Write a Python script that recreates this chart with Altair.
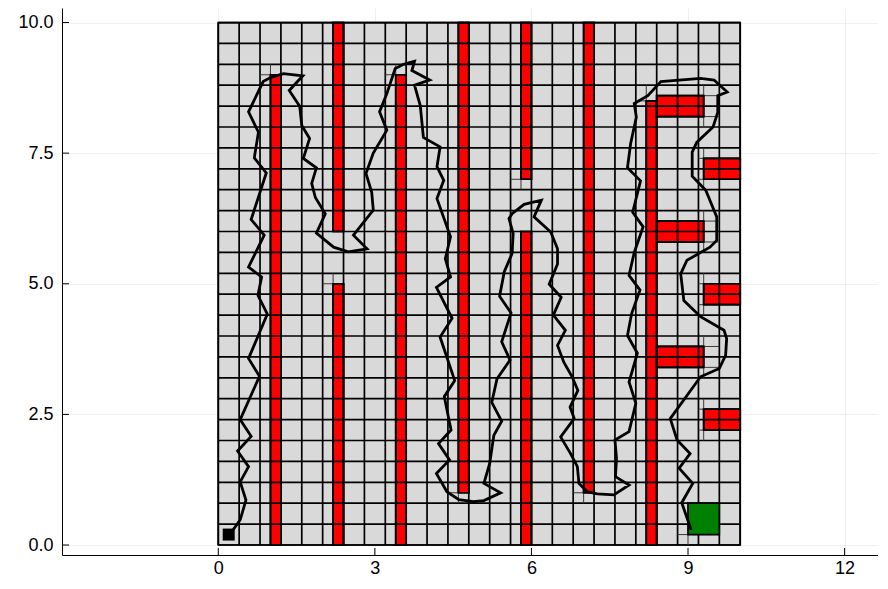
import math
import altair as alt
import pandas as pd

# ---------------- data ----------------
CELL = 0.4
N_CELLS = 25
GRID_MIN, GRID_MAX = 0.0, 10.0

obs_x0 = [1.0, 2.2, 2.2, 3.4, 4.6, 5.8, 5.8, 7.0, 8.2, 8.4, 9.3, 8.4, 9.3, 8.4, 9.3]
obs_x1 = [1.2, 2.4, 2.4, 3.6, 4.8, 6.0, 6.0, 7.2, 8.4, 9.3, 10.0, 9.3, 10.0, 9.3, 10.0]
obs_y0 = [0.0, 6.0, 0.0, 0.0, 1.0, 7.0, 0.0, 1.0, 0.0, 8.2, 7.0, 5.8, 4.6, 3.4, 2.2]
obs_y1 = [9.0, 10.0, 5.0, 9.0, 10.0, 10.0, 6.0, 10.0, 8.5, 8.6, 7.4, 6.2, 5.0, 3.8, 2.6]

goal_x0, goal_x1, goal_y0, goal_y1 = [9.0], [9.6], [0.2], [0.8]
start_x, start_y = [0.2], [0.2]

path_x = [0.20, 0.29, 0.42, 0.53, 0.42, 0.58, 0.37, 0.63, 0.42, 0.79, 0.58, 0.94, 0.76, 0.83,
          0.58, 0.88, 0.63, 0.92, 0.69, 0.77, 0.58, 0.86, 1.01, 1.25, 1.62,
          1.36, 1.56, 1.60, 1.75, 1.63, 1.88, 1.79, 1.86, 2.05, 1.88, 2.21, 2.49, 2.85,
          2.59, 2.78, 2.97, 2.94, 2.83, 2.97, 3.23, 3.09, 3.23, 3.39, 3.55, 3.76, 3.71, 4.05, 3.76,
          3.87, 3.93, 4.25, 4.19, 4.32, 4.19, 4.45, 4.35, 4.45, 4.18, 4.48, 4.25, 4.53, 4.33,
          4.46, 4.22, 4.43, 4.18, 4.38, 4.61, 4.89, 5.09, 5.41,
          5.09, 5.20, 5.28, 5.43, 5.24, 5.34, 5.59, 5.43, 5.61, 5.39, 5.48, 5.63, 5.65, 5.57,
          5.63, 5.86, 6.19, 6.05,
          6.37, 6.50, 6.50, 6.34, 6.57, 6.42, 6.65, 6.50, 6.62, 6.78, 6.89, 6.74, 6.82, 6.56,
          6.75, 6.88, 6.91, 7.07, 7.26, 7.58, 7.87,
          7.61, 7.63, 7.60, 7.87, 8.00, 7.87, 8.03, 7.84, 7.92, 8.08, 7.87, 7.97, 8.14, 7.94,
          8.09, 7.84, 7.90, 8.01, 7.97, 8.23, 8.48, 9.24, 9.50, 9.75, 9.57,
          9.57, 9.48, 9.17, 9.08, 9.08, 9.34, 9.55, 9.55, 9.42, 8.98, 8.86, 8.92, 9.24, 9.69,
          9.74, 9.72, 9.60, 9.24, 8.66, 8.79, 9.04, 8.83, 9.09, 8.88, 9.06]
path_y = [0.20, 0.30, 0.48, 0.86, 1.21, 1.50, 1.80, 2.08, 2.40, 3.23, 3.57, 4.42, 4.78, 5.13,
          5.32, 5.93, 6.23, 7.12, 7.41, 7.90, 8.29, 8.87, 8.95, 9.02, 8.98,
          8.70, 8.40, 8.03, 7.78, 7.40, 7.22, 6.92, 6.65, 6.34, 5.97, 5.70, 5.61, 5.67,
          5.93, 6.17, 6.41, 6.75, 7.11, 7.50, 7.94, 8.29, 8.64, 9.12, 9.20, 9.26, 9.08, 8.90, 8.80,
          8.41, 7.80, 7.62, 7.24, 6.98, 6.63, 5.90, 5.48, 5.13, 4.93, 4.34, 3.98, 3.15, 2.84,
          2.20, 1.94, 1.63, 1.37, 1.02, 0.87, 0.83, 0.85, 1.00,
          1.18, 1.56, 2.10, 2.37, 2.73, 3.18, 3.54, 3.89, 4.44, 4.76, 5.23, 5.58, 5.96, 6.25,
          6.34, 6.52, 6.60, 6.28,
          5.99, 5.67, 5.38, 4.99, 4.74, 4.40, 4.11, 3.82, 3.50, 3.22, 2.96, 2.64, 2.42, 2.07,
          1.75, 1.50, 1.18, 1.02, 0.98, 0.96, 1.15,
          1.31, 1.66, 2.01, 2.17, 2.71, 3.12, 3.67, 4.01, 4.43, 4.88, 5.16, 5.60, 6.09, 6.37,
          6.97, 7.22, 7.68, 8.19, 8.45, 8.60, 8.87, 8.93, 8.90, 8.67, 8.60,
          8.28, 8.00, 7.71, 7.52, 7.06, 6.79, 6.28, 5.83, 5.70, 5.45, 5.19, 4.68, 4.37, 4.11,
          3.95, 3.63, 3.38, 3.22, 2.42, 2.01, 1.75, 1.47, 1.18, 0.81, 0.29]

x_ticks = [0, 3, 6, 9, 12]
y_ticks = [0.0, 2.5, 5.0, 7.5, 10.0]

# ---------------- layout ----------------
W, H = 816, 547
XDOM = [-2.994, 12.64]
YDOM = [-0.191, 10.278]
FONT = "Liberation Sans"

xs = alt.Scale(domain=XDOM, nice=False, zero=False)
ys = alt.Scale(domain=YDOM, nice=False, zero=False)
xax = alt.Axis(values=x_ticks, format="d", title=None, ticks=False, labelPadding=4,
               grid=True, labelFlush=False)
yax = alt.Axis(values=y_ticks, format=".1f", title=None, ticks=False, labelPadding=9,
               grid=True, labelFlush=False)


def X(f):
    return alt.X(f, type="quantitative", scale=xs, axis=xax)


def Y(f):
    return alt.Y(f, type="quantitative", scale=ys, axis=yax)


# grid lines of the cell map
grid_vals = [round(i * CELL, 1) for i in range(N_CELLS + 1)]
vlines = pd.DataFrame({"x": grid_vals, "y0": GRID_MIN, "y1": GRID_MAX})
hlines = pd.DataFrame({"y": grid_vals, "x0": GRID_MIN, "x1": GRID_MAX})


def on_grid(v):
    return abs(v / CELL - round(v / CELL)) < 1e-9


def lo(v):
    return math.floor(v / CELL + 1e-9) * CELL


def hi(v):
    return math.ceil(v / CELL - 1e-9) * CELL


rects = list(zip(obs_x0, obs_x1, obs_y0, obs_y1)) + list(zip(goal_x0, goal_x1, goal_y0, goal_y1))
sv, sh = [], []
for (a, b, c, d) in rects:
    for e in (a, b):
        if not on_grid(e):
            sv.append({"x": e, "y0": lo(c), "y1": hi(d)})
    for e in (c, d):
        if not on_grid(e):
            sh.append({"y": e, "x0": lo(a), "x1": hi(b)})
split_v = pd.DataFrame(sv)
split_h = pd.DataFrame(sh)

obs = pd.DataFrame({"x0": obs_x0, "x1": obs_x1, "y0": obs_y0, "y1": obs_y1})
goal = pd.DataFrame({"x0": goal_x0, "x1": goal_x1, "y0": goal_y0, "y1": goal_y1})
bg = pd.DataFrame({"x0": [GRID_MIN], "x1": [GRID_MAX], "y0": [GRID_MIN], "y1": [GRID_MAX]})
path = pd.DataFrame({"x": path_x, "y": path_y, "i": list(range(len(path_x)))})
start = pd.DataFrame({"x": start_x, "y": start_y})
xt = pd.DataFrame({"t": x_ticks})
yt = pd.DataFrame({"t": y_ticks})

LW = 1.7

bg_layer = alt.Chart(bg).mark_rect(fill="#d9d9d9", stroke="black", strokeWidth=LW).encode(
    x=X("x0"), x2="x1", y=Y("y0"), y2="y1")
obs_layer = alt.Chart(obs).mark_rect(fill="#ff0000", stroke="black", strokeWidth=LW).encode(
    x=X("x0"), x2="x1", y=Y("y0"), y2="y1")
vgrid = alt.Chart(vlines).mark_rule(color="black", strokeWidth=LW).encode(
    x=X("x"), y=Y("y0"), y2="y1")
hgrid = alt.Chart(hlines).mark_rule(color="black", strokeWidth=LW).encode(
    y=Y("y"), x=X("x0"), x2="x1")
svl = alt.Chart(split_v).mark_rule(color="#3a3a3a", strokeWidth=1).encode(
    x=X("x"), y=Y("y0"), y2="y1")
shl = alt.Chart(split_h).mark_rule(color="#3a3a3a", strokeWidth=1).encode(
    y=Y("y"), x=X("x0"), x2="x1")
obs_edge = alt.Chart(obs).mark_rect(fill="transparent", stroke="black", strokeWidth=LW).encode(
    x=X("x0"), x2="x1", y=Y("y0"), y2="y1")
goal_layer = alt.Chart(goal).mark_rect(fill="#008000", stroke="black", strokeWidth=LW).encode(
    x=X("x0"), x2="x1", y=Y("y0"), y2="y1")
path_layer = alt.Chart(path).mark_line(color="black", strokeWidth=2.8).encode(
    x=X("x"), y=Y("y"), order="i:Q")
start_layer = alt.Chart(start).mark_square(color="black", size=144, opacity=1).encode(
    x=X("x"), y=Y("y"))
xtick_layer = alt.Chart(xt).mark_rule(color="black", strokeWidth=1).encode(
    x=X("t"), y=alt.value(H), y2=alt.value(H - 7))
ytick_layer = alt.Chart(yt).mark_rule(color="black", strokeWidth=1).encode(
    y=Y("t"), x=alt.value(0), x2=alt.value(7))

chart = alt.layer(
    bg_layer, obs_layer, vgrid, hgrid, svl, shl, obs_edge, goal_layer,
    path_layer, start_layer, xtick_layer, ytick_layer
).properties(
    width=W, height=H,
    padding={"left": 54, "top": 0, "right": 0, "bottom": 24},
    autosize=alt.AutoSizeParams(type="none"),
    background="white",
).configure_view(strokeWidth=0).configure_axis(
    labelFont=FONT, labelFontSize=18, labelColor="black",
    domainColor="black", domainWidth=1,
    gridColor="black", gridOpacity=0.1, gridWidth=0.6,
)

chart.save("out.html", embed_options={"renderer": "svg", "actions": False})
